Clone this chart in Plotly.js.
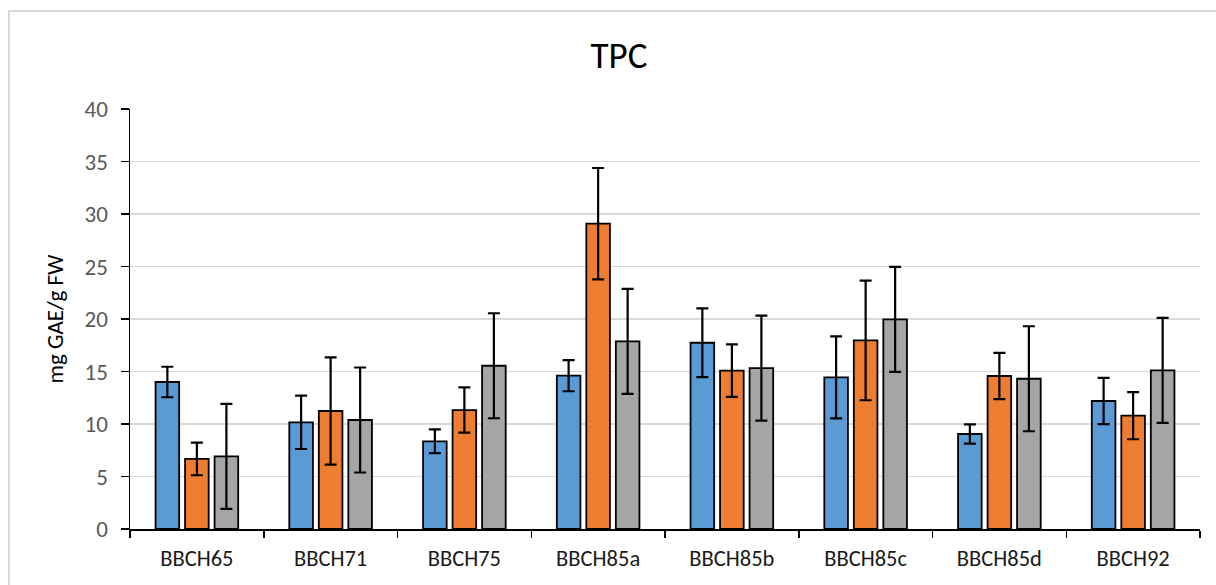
<!DOCTYPE html>
<html>
<head>
<meta charset="utf-8">
<script src="https://cdn.plot.ly/plotly-3.0.1.min.js"></script>
<style>
  html, body { margin: 0; padding: 0; background: #ffffff; }
  #frame { position: absolute; left: 8px; top: 10px; width: 1220px; height: 590px;
           border-left: 2px solid #d9d9d9; border-top: 2px solid #d9d9d9; }
  #chart { position: absolute; left: 0; top: 0; width: 1216px; height: 585px; }
</style>
</head>
<body>
<div id="frame"></div>
<div id="chart"></div>
<script>
const categories = ["BBCH65", "BBCH71", "BBCH75", "BBCH85a", "BBCH85b", "BBCH85c", "BBCH85d", "BBCH92"];

const series1Values = [14.0, 10.16, 8.35, 14.6, 17.74, 14.44, 9.05, 12.19];
const series1Errors = [1.45, 2.54, 1.13, 1.48, 3.27, 3.9, 0.92, 2.2];

const series2Values = [6.67, 11.24, 11.33, 29.08, 15.08, 17.96, 14.57, 10.79];
const series2Errors = [1.55, 5.1, 2.15, 5.3, 2.5, 5.7, 2.2, 2.24];

const series3Values = [6.92, 10.38, 15.55, 17.87, 15.33, 19.96, 14.31, 15.1];
const series3Errors = [5.0, 5.0, 5.0, 5.0, 5.0, 5.0, 5.0, 5.0];

const seriesNames = ["Series 1", "Series 2", "Series 3"];
const colors = ["#5b9bd5", "#ed7d31", "#a5a5a5"];

const FONT = "Carlito, Lato, 'Liberation Sans', sans-serif";

function mk(vals, errs, i) {
  return {
    type: "bar",
    name: seriesNames[i],
    x: categories,
    y: vals,
    marker: { color: colors[i], line: { color: "#000000", width: 1.8 } },
    error_y: { type: "data", array: errs, visible: true, color: "#000000", thickness: 2.2, width: 6 },
    hoverinfo: "x+y"
  };
}

const data = [
  mk(series1Values, series1Errors, 0),
  mk(series2Values, series2Errors, 1),
  mk(series3Values, series3Errors, 2)
];

const layout = {
  width: 1216, height: 585,
  margin: { l: 130, r: 16, t: 109, b: 56 },
  paper_bgcolor: "rgba(0,0,0,0)",
  plot_bgcolor: "rgba(0,0,0,0)",
  showlegend: false,
  barmode: "group",
  bargap: 0.338,
  bargroupgap: 0.2,
  font: { family: FONT, color: "#595959", size: 23 },
  title: { text: "TPC", font: { family: FONT, size: 37, color: "#000000" },
           xref: "container", x: 0.509, xanchor: "center", yref: "container", y: 0.906, yanchor: "middle" },
  xaxis: {
    type: "category",
    showline: true, linecolor: "#000000", linewidth: 1.5,
    ticks: "outside", tickson: "boundaries", ticklen: 7, tickwidth: 1.5, tickcolor: "#000000",
    ticklabelstandoff: 8,
    tickfont: { family: FONT, size: 22.5, color: "#1a1a1a" },
    showgrid: false
  },
  yaxis: {
    range: [0, 40], dtick: 5, tick0: 0,
    showline: true, linecolor: "#000000", linewidth: 1.5,
    ticks: "outside", ticklen: 8, tickwidth: 1.5, tickcolor: "#000000",
    ticklabelstandoff: 8,
    showgrid: true, gridcolor: "#d9d9d9", gridwidth: 1.5,
    zeroline: false,
    tickfont: { family: FONT, size: 23, color: "#595959" },
    title: { text: "mg GAE/g FW", font: { family: FONT, size: 23, color: "#000000" }, standoff: 14 }
  }
};

Plotly.newPlot("chart", data, layout, { displayModeBar: false, staticPlot: true });
</script>
</body>
</html>
